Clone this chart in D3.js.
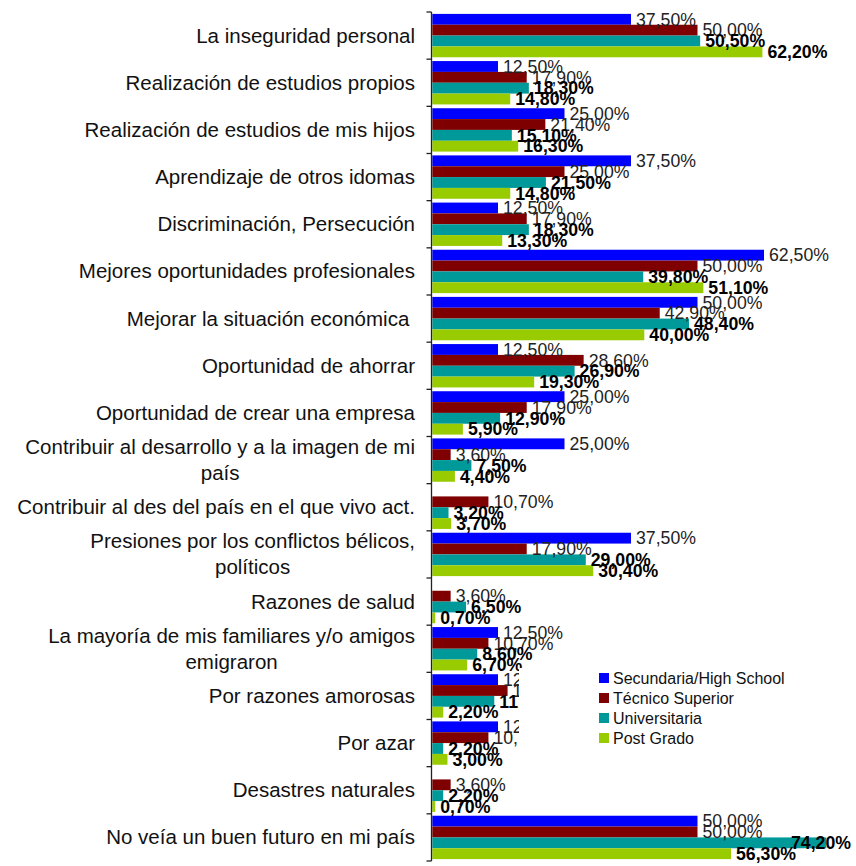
<!DOCTYPE html>
<html><head><meta charset="utf-8">
<script src="https://cdn.jsdelivr.net/npm/d3@7"></script>
<style>
html,body{margin:0;padding:0;background:#fff;}
svg{display:block;font-family:"Liberation Sans",Arial,sans-serif;}
</style></head>
<body>
<svg id="chart" width="856" height="866"></svg>
<script>
const categories = [
  "La inseguridad personal",
  "Realización de estudios propios",
  "Realización de estudios de mis hijos",
  "Aprendizaje de otros idomas",
  "Discriminación, Persecución",
  "Mejores oportunidades profesionales",
  "Mejorar la situación económica ",
  "Oportunidad de ahorrar",
  "Oportunidad de crear una empresa",
  "Contribuir al desarrollo y a la imagen de mi\npaís",
  "Contribuir al des del país en el que vivo act.",
  "Presiones por los conflictos bélicos,\npolíticos",
  "Razones de salud",
  "La mayoría de mis familiares y/o amigos\nemigraron",
  "Por razones amorosas",
  "Por azar",
  "Desastres naturales",
  "No veía un buen futuro en mi país"
];
const seriesNames = ["Secundaria/High School","Técnico Superior","Universitaria","Post Grado"];
const secundaria = [37.5,12.5,25.0,37.5,12.5,62.5,50.0,12.5,25.0,25.0,0,37.5,0,12.5,12.5,12.5,0,50.0];
const tecnico    = [50.0,17.9,21.4,25.0,17.9,50.0,42.9,28.6,17.9,3.6,10.7,17.9,3.6,10.7,14.3,10.7,3.6,50.0];
const universitaria = [50.5,18.3,15.1,21.5,18.3,39.8,48.4,26.9,12.9,7.5,3.2,29.0,6.5,8.6,11.8,2.2,2.2,74.2];
const postgrado  = [62.2,14.8,16.3,14.8,13.3,51.1,40.0,19.3,5.9,4.4,3.7,30.4,0.7,6.7,2.2,3.0,0.7,56.3];
const seriesValues = [secundaria, tecnico, universitaria, postgrado];
const colors = ["#0000FF","#7F0000","#009999","#99CC00"];
const boldLabels = [false,false,true,true];

const svg = d3.select("#chart");
const x = d3.scaleLinear().domain([0,80]).range([431.5, 431.5 + 80*5.32]);
const y0 = d3.scaleBand().domain(d3.range(categories.length)).range([12, 861]).padding(0);
const bw = y0.bandwidth();
const y1 = d3.scaleBand().domain(d3.range(4)).range([1.9, bw-1.9]).padding(0);
const fmt = v => v.toFixed(2).replace(".", ",") + "%";

// bars
const groups = svg.append("g").selectAll("g").data(categories).join("g")
  .attr("transform", (d,i) => `translate(0,${y0(i)})`);
groups.selectAll("rect").data((d,i) => seriesValues.map((s,k) => ({k, v:s[i]})))
  .join("rect")
  .filter(d => d.v > 0)
  .attr("x", x(0)+0.8)
  .attr("y", d => y1(d.k))
  .attr("width", d => x(d.v)-x(0)-0.8)
  .attr("height", y1.bandwidth())
  .attr("fill", d => colors[d.k]);

// axis
const ax = svg.append("g").attr("stroke","#222").attr("stroke-width",1.3);
ax.append("line").attr("x1",x(0)).attr("x2",x(0)).attr("y1",y0.range()[0]).attr("y2",y0.range()[1]);
const tickYs = categories.map((c,i)=>y0(i)).concat([y0.range()[1]]);
ax.selectAll("line.t").data(tickYs).join("line").attr("class","t")
  .attr("x1",x(0)-5).attr("x2",x(0)).attr("y1",d=>d).attr("y2",d=>d);

// category labels
const labelX = 415;
categories.forEach((c,i) => {
  const lines = c.split("\n");
  const cy = y0(i) + bw/2;
  const t = svg.append("text").attr("font-size","20.5px").attr("fill","#111")
    .style("white-space","pre");
  if (lines.length === 1) {
    t.append("tspan").attr("x",labelX).attr("y",cy+7).attr("text-anchor","end").text(lines[0]);
  } else {
    const first = t.append("tspan").attr("x",labelX).attr("y",cy-13+7).attr("text-anchor","end").text(lines[0]);
    const w = first.node().getComputedTextLength();
    t.append("tspan").attr("x",labelX - w/2).attr("y",cy+13+7).attr("text-anchor","middle").text(lines[1]);
  }
});

// data labels
const lab = svg.append("g").attr("font-size","17.7px");
const rightLimit = 851;
categories.forEach((c,i) => {
  seriesValues.forEach((s,k) => {
    if (s[i] <= 0) return;
    const t = lab.append("text")
      .attr("x", x(s[i]) + 5)
      .attr("y", y0(i) + y1(k) + y1.bandwidth()/2 + 6.3)
      .attr("font-weight", boldLabels[k] ? "bold" : "normal")
      .attr("fill", boldLabels[k] ? "#000" : "#222")
      .text(fmt(s[i]));
    const w = t.node().getComputedTextLength();
    if (x(s[i]) + 5 + w > rightLimit) t.attr("x", rightLimit - w);
  });
});

// legend
const lg = svg.append("g");
lg.append("rect").attr("x",519).attr("y",668).attr("width",290).attr("height",84).attr("fill","#fff");
seriesNames.forEach((n,k) => {
  const cy = 678 + k*20;
  lg.append("rect").attr("x",599).attr("y",cy-5).attr("width",10).attr("height",10).attr("fill",colors[k]);
  lg.append("text").attr("x",613).attr("y",cy+5.7).attr("font-size","16px").attr("fill","#111").text(n);
});
</script>
</body></html>
